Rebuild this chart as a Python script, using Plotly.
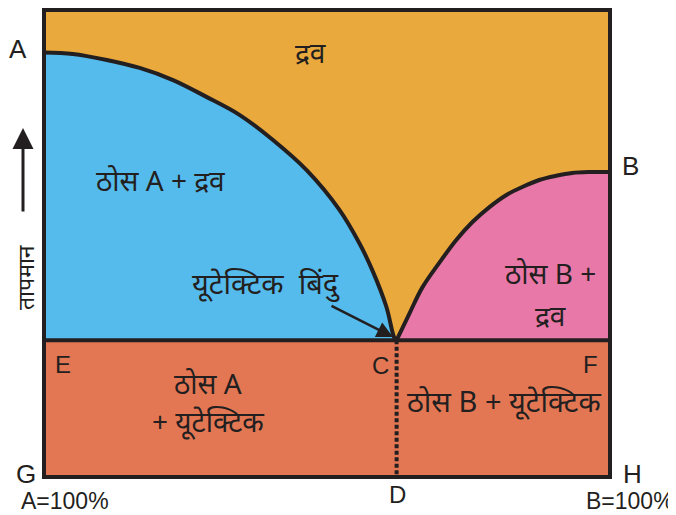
import plotly.graph_objects as go

# ---- data (composition %B on x, temperature on y, arbitrary units) ----
liquidus_A_x = [0, 5.1, 11.1, 16.9, 22.8, 28.7, 34.6, 40.4, 46.4, 52.2, 55.7, 58.0, 60.5, 61.9, 62.3]
liquidus_A_y = [90.9, 90.6, 89.3, 87.6, 85.0, 81.4, 77.5, 72.2, 65.7, 57.2, 50.1, 44.3, 36.4, 29.8, 29.3]
liquidus_B_x = [62.3, 64.6, 66.8, 69.8, 72.8, 75.7, 78.7, 81.7, 84.5, 87.5, 90.5, 93.3, 96.3, 100]
liquidus_B_y = [29.3, 35.1, 40.5, 45.8, 50.7, 54.6, 57.8, 60.4, 62.1, 63.6, 64.5, 65.1, 65.3, 65.3]
eutectic_x = 62.3
eutectic_y = 29.3
x_range = [0, 100]
y_range = [0, 100]

C_LIQ = "#EAA93C"
C_BLUE = "#55BBEC"
C_PINK = "#E878A7"
C_RED = "#E37753"
C_INK = "#231F20"

# page body has an 8px margin; figure sized/offset to compensate
OFF = 8
W, H = 668, 507
ML, MR, MT, MB = 36, 66, 2, 38
PW, PH = W - ML - MR, H - MT - MB

def paper(px, py):
    fx, fy = px - OFF, py - OFF
    return (fx - ML) / PW, (H - MB - fy) / PH

fig = go.Figure()

# eutectic band (solid A/B + eutectic)
fig.add_trace(go.Scatter(
    x=[x_range[0], x_range[1], x_range[1], x_range[0], x_range[0]],
    y=[y_range[0], y_range[0], eutectic_y, eutectic_y, y_range[0]],
    fill="toself", fillcolor=C_RED, mode="none", hoverinfo="skip"))

# solid A + liquid
fig.add_trace(go.Scatter(
    x=[x_range[0]] + liquidus_A_x + [x_range[0]],
    y=[eutectic_y] + liquidus_A_y + [eutectic_y],
    fill="toself", fillcolor=C_BLUE, mode="none", hoverinfo="skip"))

# solid B + liquid
fig.add_trace(go.Scatter(
    x=liquidus_B_x + [x_range[1], eutectic_x],
    y=liquidus_B_y + [eutectic_y, eutectic_y],
    fill="toself", fillcolor=C_PINK, mode="none", hoverinfo="skip"))

# liquidus curves
for xs, ys in [(liquidus_A_x, liquidus_A_y), (liquidus_B_x, liquidus_B_y)]:
    fig.add_trace(go.Scatter(x=xs, y=ys, mode="lines",
                             line=dict(color=C_INK, width=4, shape="spline", smoothing=1.0),
                             hoverinfo="skip"))

# eutectic line
fig.add_trace(go.Scatter(x=x_range, y=[eutectic_y, eutectic_y], mode="lines",
                         line=dict(color=C_INK, width=4), hoverinfo="skip"))
# dotted C-D line
fig.add_trace(go.Scatter(x=[eutectic_x, eutectic_x], y=[eutectic_y, y_range[0]], mode="lines",
                         line=dict(color=C_INK, width=4, dash="4px,2.5px"), hoverinfo="skip"))

# frame
fig.add_shape(type="rect", xref="paper", yref="paper", x0=0, y0=0, x1=1, y1=1,
              line=dict(color=C_INK, width=4), layer="above")

LAT = "Liberation Sans, Arial, sans-serif"
DEV = "Noto Sans, Liberation Sans, sans-serif"

def label(text, px, py, size=24, family=LAT, **kw):
    xp, yp = paper(px, py)
    fig.add_annotation(text=text, x=xp, y=yp, xref="paper", yref="paper",
                       showarrow=False, xanchor="center", yanchor="middle",
                       font=dict(family=family, size=size, color=C_INK), **kw)

# letters
label("A", 18, 49, 26)
label("B", 630, 166, 26)
label("E", 63, 364, 24)
label("C", 380, 365, 24)
label("F", 590, 364, 24)
label("G", 26, 474, 26)
label("H", 632, 474, 26)
label("D", 397, 494, 24)
label("A=100%", 65, 501, 23)
label("B=100%", 630, 501, 23)

# region labels
label("द्रव", 310, 52, 28, DEV)
label("ठोस A + द्रव", 160, 180, 28, DEV)
label("यूटेक्टिक  बिंदु", 266, 282, 29, DEV)
label("ठोस B +", 550, 273, 28, DEV)
label("द्रव", 550, 315, 28, DEV)
label("ठोस A", 208, 383, 28, DEV)
label("+ यूटेक्टिक", 208, 421, 28, DEV)
label("ठोस B + यूटेक्टिक", 504, 400, 29, DEV)
label("तापमान", 25, 277, 23, DEV, textangle=-90)

# eutectic point arrow
hx, hy = paper(393, 337)
fig.add_annotation(text="", x=hx, y=hy, xref="paper", yref="paper", showarrow=True,
                   ax=330 - 393, ay=305 - 337, arrowhead=2, arrowsize=1.3,
                   arrowwidth=2.5, arrowcolor=C_INK)
# temperature arrow
tx, ty = paper(23, 128)
fig.add_annotation(text="", x=tx, y=ty, xref="paper", yref="paper", showarrow=True,
                   ax=0, ay=213 - 128, arrowhead=2, arrowsize=1.4,
                   arrowwidth=3, arrowcolor=C_INK)

fig.update_layout(
    width=W, height=H, margin=dict(l=ML, r=MR, t=MT, b=MB),
    plot_bgcolor=C_LIQ, paper_bgcolor="white", showlegend=False,
    xaxis=dict(range=x_range, visible=False, fixedrange=True),
    yaxis=dict(range=y_range, visible=False, fixedrange=True),
)
fig.write_html("out.html")
